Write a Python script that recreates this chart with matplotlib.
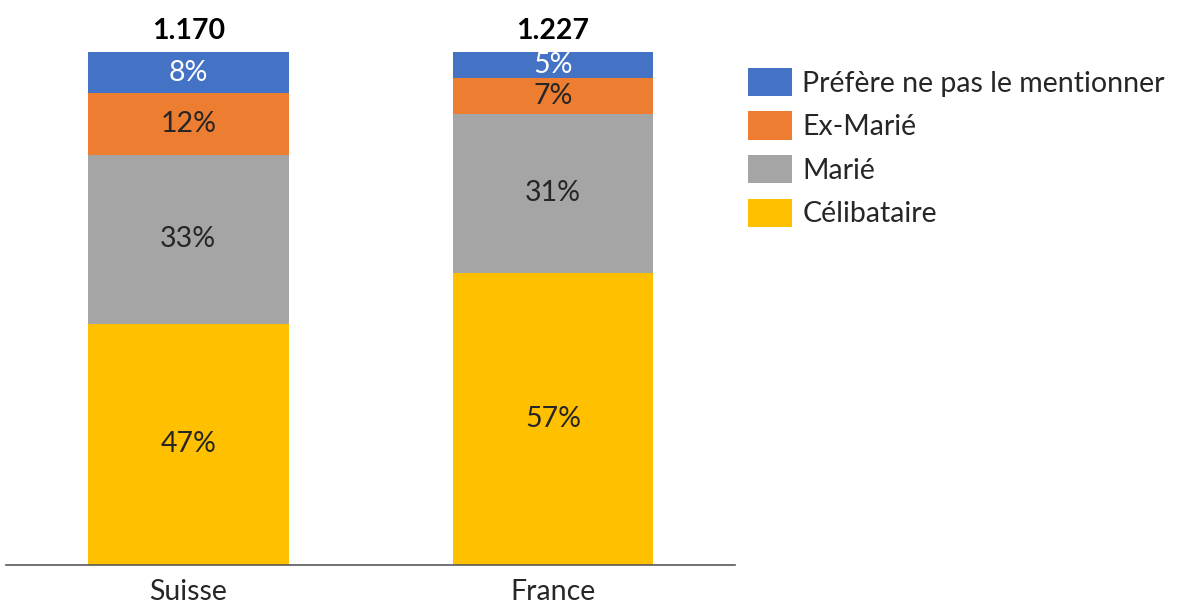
import numpy as np
import matplotlib.pyplot as plt

plt.rcParams['font.family'] = ['Lato', 'DejaVu Sans']

pays = ['Suisse', 'France']
totaux = ['1.170', '1.227']
categories = ['Célibataire', 'Marié', 'Ex-Marié', 'Préfère ne pas le mentionner']
valeurs = {
    'Célibataire': [47, 57],
    'Marié': [33, 31],
    'Ex-Marié': [12, 7],
    'Préfère ne pas le mentionner': [8, 5],
}
couleurs = ['#FFC000', '#A5A5A5', '#ED7D31', '#4472C4']
couleurs_texte = ['#262626', '#262626', '#262626', 'white']

fs = 20.5

fig = plt.figure(figsize=(11.82, 6.06), dpi=100)
ax = fig.add_axes([0.005, 0.0677, 0.617, 0.8465])

x = np.arange(len(pays))
bas = np.zeros(len(pays))
handles = []
for cat, col, tcol in zip(categories, couleurs, couleurs_texte):
    vals = np.array(valeurs[cat], dtype=float)
    b = ax.bar(x, vals, 0.55, bottom=bas, color=col, label=cat)
    handles.append(b)
    for xi, v, b0 in zip(x, vals, bas):
        ax.text(xi, b0 + v / 2, f'{int(v)}%', ha='center', va='center',
                fontsize=fs, color=tcol)
    bas += vals

for xi, t, top in zip(x, totaux, bas):
    ax.text(xi, top + 1.5, t, ha='center', va='bottom', fontsize=fs,
            fontweight='bold', color='black')

ax.set_xlim(-0.5, 1.5)
ax.set_ylim(0, 100)
ax.set_xticks(x)
ax.set_xticklabels(pays, fontsize=fs, color='#262626')
ax.tick_params(axis='x', length=0, pad=10)
ax.set_yticks([])
for s in ['top', 'right', 'left']:
    ax.spines[s].set_visible(False)
ax.spines['bottom'].set_color('#595959')
ax.spines['bottom'].set_linewidth(1.2)

fig.legend(handles[::-1], categories[::-1], loc='upper left',
           bbox_to_anchor=(0.633, 0.888), frameon=False, fontsize=fs,
           borderpad=0, borderaxespad=0,
           handlelength=1.55, handleheight=1.15, handletextpad=0.35,
           labelspacing=0.52, labelcolor='#262626')

fig.savefig('out.png', dpi=100)
